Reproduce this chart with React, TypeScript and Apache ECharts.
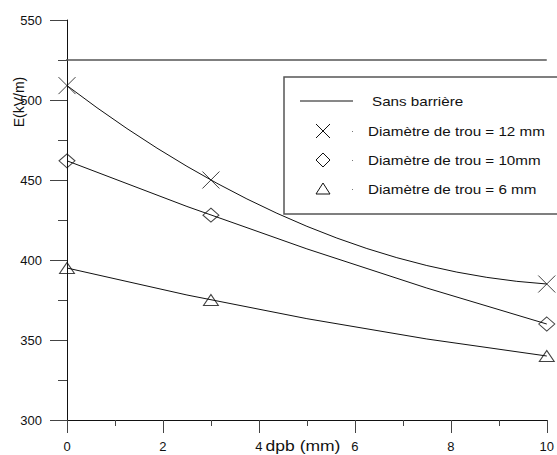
import React, { useEffect, useRef } from "react";
import * as echarts from "echarts";

const xValues = [0, 3, 10];
const sansBarriere = [[-0.19, 525], [10, 525]];
const trou12 = [509, 450, 385];
const trou10 = [462, 428, 360];
const trou6 = [395, 375, 340];
const legendLabels = [
  "Sans barrière",
  "Diamètre de trou = 12 mm",
  "Diamètre de trou = 10mm",
  "Diamètre de trou = 6 mm",
];
const xAxisTitle = "dpb (mm)";
const yAxisTitle = "E(kV/m)";

const FONT = "Liberation Sans, Arial, sans-serif";
const INK = "#111";

const pairs = (ys: number[]) => xValues.map((x, i) => [x, ys[i]]);

// smooth curve through the three measured points, drawn in pixel space
const curveSeries = (ys: number[], name: string) => ({
  type: "custom",
  name,
  data: pairs(ys),
  clip: false,
  silent: true,
  renderItem: (params: any, api: any) => {
    if (params.dataIndex !== 0) return null;
    const p = pairs(ys).map((d) => api.coord(d));
    const [x0, y0] = p[0];
    const [x1, y1] = p[1];
    const [x2, y2] = p[2];
    const d0 =
      (y0 * (2 * x0 - x1 - x2)) / ((x0 - x1) * (x0 - x2)) +
      (y1 * (x0 - x2)) / ((x1 - x0) * (x1 - x2)) +
      (y2 * (x0 - x1)) / ((x2 - x0) * (x2 - x1));
    const cx = (x0 + x2) / 2;
    const cy = y0 + (d0 * (x2 - x0)) / 2;
    return {
      type: "path",
      shape: { pathData: `M${x0} ${y0} Q${cx} ${cy} ${x2} ${y2}` },
      style: { fill: "none", stroke: INK, lineWidth: 1 },
    };
  },
});

const markerSeries = (ys: number[], name: string, symbol: string, size: any) => ({
  type: "scatter",
  name,
  data: pairs(ys),
  clip: false,
  symbol,
  symbolSize: size,
  itemStyle: { color: "none", borderColor: INK, borderWidth: 1 },
  z: 3,
});

export default function App() {
  const ref = useRef<HTMLDivElement>(null);
  useEffect(() => {
    if (!ref.current) return;
    const chart = echarts.init(ref.current, null, { renderer: "svg" });
    const legendX = 323;
    const legendYs = [101, 131, 160, 189];
    const legendText = (t: string, x: number, y: number) => ({
      type: "text",
      x,
      y,
      scaleX: 1.17,
      style: {
        text: t,
        fontFamily: FONT,
        fontSize: 13,
        fill: INK,
        verticalAlign: "middle",
      },
      z: 11,
    });
    chart.setOption({
      animation: false,
      backgroundColor: "#fff",
      grid: { left: 67, right: 9, top: 20, bottom: 35 },
      xAxis: {
        type: "value",
        min: 0,
        max: 10,
        interval: 2,
        axisLine: { show: true, onZero: false, lineStyle: { color: INK } },
        axisTick: { show: true, inside: false, length: 13, lineStyle: { color: "#444" } },
        minorTick: { show: true, splitNumber: 2, length: 6, lineStyle: { color: "#444" } },
        splitLine: { show: false },
        axisLabel: { fontFamily: FONT, fontSize: 13, color: INK, margin: 20 },
      },
      yAxis: {
        type: "value",
        min: 300,
        max: 550,
        interval: 50,
        axisLine: { show: true, onZero: false, lineStyle: { color: INK } },
        axisTick: { show: true, inside: false, length: 17, lineStyle: { color: "#444" } },
        minorTick: { show: true, splitNumber: 2, length: 9, lineStyle: { color: "#444" } },
        splitLine: { show: false },
        axisLabel: { fontFamily: FONT, fontSize: 13, color: INK, margin: 25 },
      },
      graphic: [
        {
          type: "text",
          x: 19,
          y: 102,
          rotation: Math.PI / 2,
          style: {
            text: yAxisTitle,
            fontFamily: FONT,
            fontSize: 14,
            fill: INK,
            align: "center",
            verticalAlign: "middle",
          },
        },
        {
          type: "text",
          x: 303,
          y: 446,
          scaleX: 1.25,
          style: {
            text: xAxisTitle,
            fontFamily: FONT,
            fontSize: 14,
            fill: INK,
            align: "center",
            verticalAlign: "middle",
          },
        },
        {
          type: "rect",
          shape: { x: 284, y: 77, width: 290, height: 137 },
          style: { fill: "#fff", stroke: "#555", lineWidth: 1.5 },
          z: 10,
        },
        {
          type: "line",
          shape: { x1: 300, y1: legendYs[0], x2: 353, y2: legendYs[0] },
          style: { stroke: INK, lineWidth: 1 },
          z: 11,
        },
        {
          type: "line",
          shape: { x1: legendX - 7, y1: legendYs[1] - 7, x2: legendX + 7, y2: legendYs[1] + 7 },
          style: { stroke: INK, lineWidth: 1 },
          z: 11,
        },
        {
          type: "line",
          shape: { x1: legendX + 7, y1: legendYs[1] - 7, x2: legendX - 7, y2: legendYs[1] + 7 },
          style: { stroke: INK, lineWidth: 1 },
          z: 11,
        },
        {
          type: "polygon",
          shape: {
            points: [
              [legendX, legendYs[2] - 7],
              [legendX + 7, legendYs[2]],
              [legendX, legendYs[2] + 7],
              [legendX - 7, legendYs[2]],
            ],
          },
          style: { fill: "none", stroke: INK, lineWidth: 1 },
          z: 11,
        },
        {
          type: "polygon",
          shape: {
            points: [
              [legendX, legendYs[3] - 6],
              [legendX + 7, legendYs[3] + 5],
              [legendX - 7, legendYs[3] + 5],
            ],
          },
          style: { fill: "none", stroke: INK, lineWidth: 1 },
          z: 11,
        },
        ...[1, 2, 3].map((i) => ({
          type: "rect",
          shape: { x: 352, y: legendYs[i], width: 1, height: 1 },
          style: { fill: "#777" },
          z: 11,
        })),
        ...legendLabels.map((t, i) => legendText(t, i === 0 ? 372 : 368, legendYs[i])),
      ],
      series: [
        {
          name: legendLabels[0],
          type: "line",
          data: sansBarriere,
          clip: false,
          symbol: "none",
          lineStyle: { color: "#555", width: 1.5 },
        },
        curveSeries(trou12, legendLabels[1]),
        curveSeries(trou10, legendLabels[2]),
        curveSeries(trou6, legendLabels[3]),
        markerSeries(trou12, legendLabels[1], "path://M0,0L10,10M10,0L0,10", 17),
        markerSeries(trou10, legendLabels[2], "diamond", [16, 14]),
        markerSeries(trou6, legendLabels[3], "triangle", [15, 11]),
      ],
    });
    return () => chart.dispose();
  }, []);
  return (
    <div
      ref={ref}
      style={{ position: "fixed", left: 0, top: 0, width: 557, height: 455 }}
    />
  );
}
